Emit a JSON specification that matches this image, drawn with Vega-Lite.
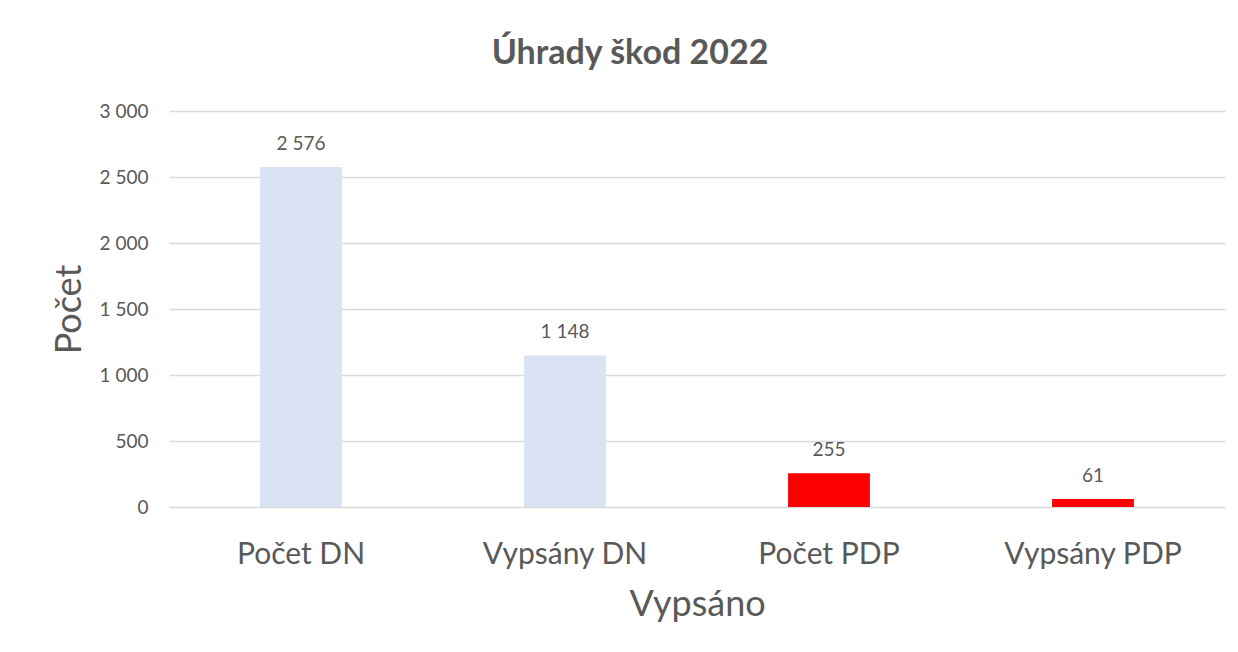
{
  "$schema": "https://vega.github.io/schema/vega-lite/v6.json",
  "width": 1056,
  "height": 396,
  "padding": {"left": 169, "top": 111, "right": 13, "bottom": 145},
  "autosize": {"type": "none"},
  "background": "white",
  "config": {
    "font": "Lato",
    "locale": {"number": {"decimal": ",", "thousands": " ", "grouping": [3], "currency": ["", " Kč"]}},
    "view": {"stroke": null},
    "axis": {"labelColor": "#595959", "titleColor": "#595959", "gridColor": "#D9D9D9", "gridWidth": 1.5, "domain": false, "ticks": false, "labelFont": "Lato", "titleFont": "Lato", "titleFontWeight": "normal"}
  },
  "title": {
    "text": "Úhrady škod 2022",
    "font": "Lato",
    "fontSize": 34,
    "fontWeight": "bold",
    "color": "#595959",
    "anchor": "middle",
    "dx": -67,
    "offset": 31
  },
  "data": {
    "values": [
      {"kategorie": "Počet DN", "pocet": 2576, "skupina": "DN"},
      {"kategorie": "Vypsány DN", "pocet": 1148, "skupina": "DN"},
      {"kategorie": "Počet PDP", "pocet": 255, "skupina": "PDP"},
      {"kategorie": "Vypsány PDP", "pocet": 61, "skupina": "PDP"}
    ]
  },
  "encoding": {
    "x": {
      "field": "kategorie",
      "type": "nominal",
      "sort": null,
      "scale": {"paddingInner": 0.69, "paddingOuter": 0.345},
      "axis": {"title": "Vypsáno", "labelAngle": 0, "labelFontSize": 30, "labelPadding": 32, "titleFontSize": 36, "titlePadding": 18, "grid": false}
    },
    "y": {
      "field": "pocet",
      "type": "quantitative",
      "scale": {"domain": [0, 3000]},
      "axis": {"title": "Počet", "values": [0, 500, 1000, 1500, 2000, 2500, 3000], "format": ",.0f", "labelFontSize": 19, "labelPadding": 21, "titleFontSize": 36, "titlePadding": 11}
    }
  },
  "layer": [
    {
      "mark": {"type": "bar"},
      "encoding": {
        "color": {"field": "skupina", "type": "nominal", "scale": {"domain": ["DN", "PDP"], "range": ["#DAE3F3", "#FF0000"]}, "legend": null}
      }
    },
    {
      "mark": {"type": "text", "baseline": "alphabetic", "dy": -17, "fontSize": 19, "color": "#595959", "font": "Lato"},
      "encoding": {
        "text": {"field": "pocet", "type": "quantitative", "format": ","}
      }
    }
  ]
}
